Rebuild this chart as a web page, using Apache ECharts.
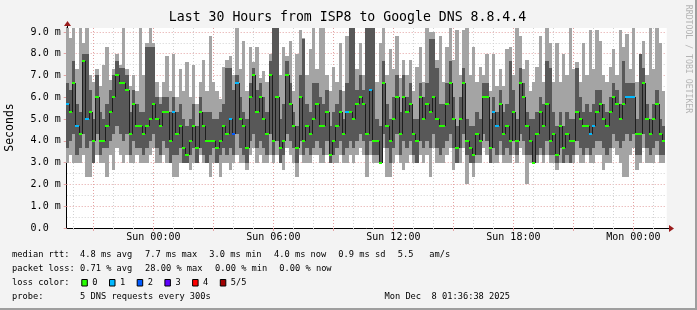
<!DOCTYPE html>
<html><head><meta charset="utf-8">
<script src="https://cdn.jsdelivr.net/npm/echarts@6/dist/echarts.min.js"></script>
<style>html,body{margin:0;padding:0;background:#f3f3f3}#c{width:697px;height:310px}</style>
</head><body><div id="c"></div>
<script>
// ---- data (ms), one column per 10 minutes, starting Sat 19:36 (minutes relative to Sun 00:00)
const STEP = 10;
const START = -264;
const medV = [5.67,5.33,6.67,4.67,4.33,7.67,5.0,5.33,4.0,6.0,
 4.0,4.0,4.67,5.33,6.0,7.0,6.67,6.67,6.33,4.33,
 5.67,4.67,4.67,4.33,4.67,5.0,5.67,5.0,4.67,5.33,
 5.33,4.0,5.33,4.33,4.67,3.67,3.33,4.0,4.67,3.67,
 5.33,4.67,4.0,4.0,4.0,3.67,4.0,4.67,4.33,5.0,
 4.33,6.67,5.0,4.67,3.67,6.0,7.0,5.33,6.0,5.0,
 4.33,7.0,4.0,6.0,3.67,4.0,7.0,5.67,4.67,3.67,
 6.0,4.0,4.67,4.33,5.0,5.67,4.67,4.67,5.33,3.33,
 4.0,4.67,5.33,4.33,5.33,5.33,5.0,5.67,6.0,5.67,
 4.33,6.33,4.0,4.0,3.0,6.67,4.67,4.0,5.0,6.0,
 4.33,6.0,5.33,5.67,4.33,4.0,6.0,5.0,5.67,5.33,
 6.0,5.0,4.67,4.67,5.67,6.67,5.0,3.67,5.0,6.67,
 4.0,3.67,3.33,4.33,4.0,6.0,6.0,3.67,5.33,4.67,
 5.67,4.33,4.67,4.0,5.33,4.0,6.67,6.0,4.67,4.0,
 3.0,4.33,5.33,4.67,5.67,4.0,4.33,3.33,4.67,3.67,
 4.33,4.0,4.0,5.33,5.0,4.67,4.67,4.33,4.67,5.33,
 5.67,5.0,4.67,5.33,6.0,5.67,5.0,5.67,6.0,6.0,
 6.0,4.33,4.33,6.67,5.0,4.33,5.0,5.67,4.33,4.0];
const p4V = [6.67,6.33,7.67,5.67,5.33,8.0,8.0,6.33,5.0,7.0,
 5.33,5.0,5.67,6.33,7.0,7.67,7.33,7.33,7.0,5.33,
 6.33,5.67,5.33,5.33,8.33,8.33,8.33,6.0,5.67,6.0,
 6.0,5.33,6.0,5.33,5.67,5.0,4.67,5.0,5.67,4.67,
 6.0,5.33,5.33,5.33,5.0,5.0,5.33,5.67,7.33,7.33,
 6.33,7.0,6.0,5.33,5.0,6.67,7.33,6.33,6.67,6.0,
 5.33,7.67,9.5,9.5,5.0,5.67,7.67,6.67,5.33,4.67,
 7.0,8.67,5.67,5.33,6.67,6.67,6.0,5.67,6.33,4.67,
 5.33,5.67,6.33,5.0,6.67,9.5,9.5,6.33,7.0,6.33,
 9.5,9.5,9.5,5.0,4.67,7.67,5.67,5.0,6.0,7.0,
 5.33,7.0,6.0,6.67,5.0,5.0,6.67,6.0,6.67,8.67,
 8.67,7.33,5.67,5.67,6.67,7.67,6.0,4.67,6.0,7.33,
 5.0,4.67,4.67,5.33,5.0,6.67,6.67,5.0,6.0,5.33,
 6.33,5.33,5.67,7.67,6.33,5.0,7.33,6.67,5.33,5.0,
 5.0,5.33,6.0,5.67,7.67,7.33,5.33,4.67,5.33,4.67,
 5.33,5.0,5.0,7.33,6.0,5.33,5.67,5.33,5.67,6.33,
 6.33,5.67,5.33,6.0,6.67,6.33,5.67,7.67,6.67,6.67,
 6.67,5.0,8.0,7.33,5.67,5.0,5.67,6.33,5.0,4.67];
const maxV = [9.5,8.7,9.5,7.3,9.5,8.5,9.5,7.0,6.7,7.3,
 6.5,7.5,8.3,6.8,7.3,8.0,7.5,9.5,7.3,6.5,
 7.0,6.3,9.5,7.0,8.5,9.5,8.5,6.7,6.0,6.7,
 7.9,6.3,8.0,6.0,7.3,6.3,7.6,6.0,7.5,5.7,
 6.7,7.7,6.3,8.8,6.7,6.3,5.9,7.4,7.7,7.9,
 7.0,9.5,7.3,8.6,6.3,8.3,7.6,8.3,6.9,7.2,
 6.7,8.0,9.5,9.5,7.0,8.3,7.9,8.6,6.3,8.0,
 9.1,8.7,7.0,8.2,9.5,7.3,9.5,9.5,7.0,6.3,
 7.4,6.7,8.5,6.3,8.8,9.5,9.5,7.3,8.5,7.0,
 9.5,9.5,9.5,6.7,8.5,9.5,7.0,8.2,7.3,8.8,
 6.9,7.7,7.0,7.7,6.3,7.4,8.3,6.7,9.5,9.0,
 9.0,7.7,8.8,6.7,8.3,9.5,7.7,9.1,7.0,9.1,
 9.5,7.0,8.3,6.7,7.4,7.0,8.0,6.3,8.0,6.5,
 7.3,6.5,8.2,8.3,7.0,9.5,8.8,7.3,7.7,6.3,
 6.7,7.4,8.8,6.7,9.5,8.5,6.7,8.5,6.7,8.0,
 7.0,9.5,7.3,7.6,6.7,8.5,7.0,9.1,7.3,9.1,
 8.6,7.0,6.7,7.4,8.2,7.0,9.1,8.3,8.9,7.3,
 9.5,6.7,8.0,8.6,7.0,9.5,7.3,9.5,8.5,6.3];
const p2V = [3.67,4.0,4.33,3.33,3.67,4.33,3.67,4.0,3.0,4.33,
 3.33,3.67,3.67,4.0,4.33,4.67,4.33,4.0,4.33,3.33,
 4.0,3.67,3.67,3.33,3.67,4.0,4.33,3.67,3.33,4.0,
 3.67,3.0,3.33,3.33,3.67,3.0,3.0,3.33,3.67,3.0,
 3.67,3.33,3.0,3.33,3.67,3.0,3.33,3.67,3.33,3.67,
 3.33,4.33,3.67,3.33,3.0,4.0,4.33,3.67,4.0,3.67,
 3.33,4.33,3.33,4.0,3.0,3.33,4.33,4.0,3.67,3.0,
 4.0,3.33,3.67,3.33,3.67,4.0,3.67,3.33,4.0,3.0,
 3.33,3.67,4.0,3.33,3.67,4.0,3.67,4.0,4.33,4.0,
 3.33,4.0,3.33,3.33,3.0,4.33,3.67,3.0,3.67,4.33,
 3.33,4.0,3.67,4.0,3.33,3.0,4.0,3.67,4.0,3.67,
 4.33,3.67,3.33,3.67,4.0,4.33,3.67,3.0,3.67,4.33,
 3.33,3.0,3.0,3.33,3.33,4.33,4.0,3.0,3.67,3.33,
 4.0,3.33,3.67,3.33,4.0,3.33,4.33,4.0,3.33,3.33,
 3.0,3.33,3.67,3.33,4.0,3.33,3.33,3.0,3.67,3.0,
 3.33,3.0,3.33,4.0,3.67,3.33,3.67,3.33,3.67,4.0,
 4.0,3.67,3.33,3.67,4.33,4.0,3.67,4.0,4.33,4.0,
 4.33,3.33,3.33,4.33,3.67,3.33,3.67,4.0,3.33,3.33];
const minV = [3.0,3.33,3.0,3.0,3.0,3.33,2.33,2.33,3.0,3.33,
 3.0,3.0,2.33,3.33,2.67,3.67,3.33,3.0,3.33,3.0,
 3.0,3.33,3.0,3.0,3.0,3.33,3.67,3.0,3.0,3.33,
 3.0,3.0,2.33,2.33,3.0,3.0,3.0,2.67,3.0,3.0,
 3.33,3.0,3.0,2.33,3.0,3.0,2.33,3.0,3.0,2.67,
 3.0,3.33,3.0,3.0,2.67,3.33,3.67,3.0,3.33,3.0,
 3.0,3.33,3.0,3.33,3.0,2.67,3.67,3.33,3.0,2.33,
 3.33,3.0,3.0,3.0,3.33,3.33,3.0,3.0,3.33,3.0,
 3.0,3.0,3.33,3.0,3.0,3.33,3.0,3.33,3.67,3.33,
 2.33,3.33,3.0,3.0,3.0,3.67,2.33,2.33,3.0,3.33,
 3.0,2.67,3.0,3.33,3.0,3.0,3.33,3.0,3.33,2.33,
 3.67,3.0,3.0,3.0,3.33,3.67,2.67,3.0,3.0,3.67,
 2.0,3.0,2.33,3.0,3.0,3.67,3.33,3.0,3.0,3.0,
 3.33,3.0,3.0,3.0,3.33,3.0,3.67,3.33,2.0,3.0,
 3.0,3.0,3.33,3.0,3.33,3.0,3.0,2.67,3.0,3.0,
 3.0,3.0,3.0,3.33,3.0,3.0,3.33,3.0,3.0,3.33,
 3.33,2.67,3.0,3.0,3.67,3.33,3.0,2.33,2.33,3.33,
 3.67,2.67,3.0,3.67,3.0,3.0,3.0,3.33,3.0,3.0];
const lossV = [1,0,0,1,0,0,1,0,0,0, 0,0,0,0,0,0,0,0,0,0, 0,0,0,0,0,0,0,0,0,0,
 0,0,1,0,0,0,0,0,0,0, 0,0,0,0,0,0,0,0,0,1, 2,1,0,0,0,0,0,0,0,0,
 0,0,0,0,0,0,0,0,0,0, 0,0,0,0,0,0,0,0,0,0, 0,0,0,0,1,0,0,0,0,0,
 0,1,0,0,0,0,0,0,0,0, 0,0,0,0,0,0,0,0,0,0, 0,0,0,0,0,0,0,0,0,0,
 0,0,0,0,0,0,0,0,1,1, 0,0,0,0,0,0,0,0,0,0, 0,0,0,0,0,0,0,0,0,0,
 0,0,0,0,0,0,0,1,1,0, 0,0,0,0,0,0,0,0,1,1, 1,0,0,0,0,0,0,0,0,0];

// axis ticks / labels
const xLabelVals = [0, 360, 720, 1080, 1440];
const xLabelText = ['Sun 00:00', 'Sun 06:00', 'Sun 12:00', 'Sun 18:00', 'Mon 00:00'];
const xMajorVals = [-180, 0, 180, 360, 540, 720, 900, 1080, 1260, 1440];
const xMinorVals = [-240, -120, -60, 60, 120, 240, 300, 420, 480, 600, 660, 780, 840, 960, 1020, 1140, 1200, 1320, 1380, 1500];
const yLabelVals = [0, 1, 2, 3, 4, 5, 6, 7, 8, 9];
const yLabelText = ['0.0  ', '1.0 m', '2.0 m', '3.0 m', '4.0 m', '5.0 m', '6.0 m', '7.0 m', '8.0 m', '9.0 m'];
const yMinorVals = [0.5, 1.5, 2.5, 3.5, 4.5, 5.5, 6.5, 7.5, 8.5];

// legend texts
const titleText = 'Last 30 Hours from ISP8 to Google DNS 8.8.4.4';
const rttStats = ['4.8 ms avg', '7.7 ms max', '3.0 ms min', '4.0 ms now', '0.9 ms sd', '5.5', 'am/s'];
const lossStats = ['0.71 % avg', '28.00 % max', '0.00 % min', '0.00 % now'];
const lossLabels = ['0', '1', '2', '3', '4', '5/5'];
const lossColors = ['#26ff00', '#00b8ff', '#0059ff', '#5e00ff', '#ff0000', '#a00000'];
const probeText = '5 DNS requests every 300s';
const stampText = 'Mon Dec  8 01:36:38 2025';

// ---- layout
const X_MIN = -260, X_MAX = 1540, Y_MAX = 9.18;
const MONO = '"DejaVu Sans Mono", monospace';
const data = medV.map((m, i) => [START + i * STEP, minV[i], p2V[i], m, p4V[i], maxV[i], lossV[i], i > 0 ? medV[i - 1] : m]);

function band(lo, hi, color) {
  return function (params, api) {
    const t = api.value(0);
    const a = api.coord([t, api.value(lo)]);
    const b = api.coord([t + STEP, api.value(hi)]);
    const x0 = Math.round(a[0]), x1 = Math.round(b[0]);
    const y0 = Math.round(b[1]), y1 = Math.round(a[1]);
    return { type: 'rect', shape: { x: x0, y: y0, width: x1 - x0, height: y1 - y0 }, style: { fill: color } };
  };
}
function medLine(params, api) {
  const t = api.value(0);
  const a = api.coord([t, api.value(7)]);
  const b = api.coord([t, api.value(3)]);
  const x = Math.round(a[0]) + 0.5;
  return { type: 'line', shape: { x1: x, y1: Math.round(a[1]), x2: x, y2: Math.round(b[1]) }, style: { stroke: '#1e1e1e', lineWidth: 1 } };
}
function medMark(params, api) {
  const t = api.value(0);
  const a = api.coord([t, api.value(3)]);
  const b = api.coord([t + STEP, api.value(3)]);
  const x0 = Math.round(a[0]), x1 = Math.round(b[0]);
  const y = Math.round(a[1]);
  return { type: 'rect', shape: { x: x0, y: y - 1, width: x1 - x0, height: 2 }, style: { fill: lossColors[api.value(6)] } };
}
const customBase = { type: 'custom', data: data, clip: true, encode: { x: 0, y: [1, 5] }, silent: true, animation: false };

const chart = echarts.init(document.getElementById('c'), null, { renderer: 'canvas' });
const gridColMinor = '#d2d2d2', gridColMajor = '#e3a3a3';
chart.setOption({
  animation: false,
  backgroundColor: '#f3f3f3',
  grid: { left: 66.7, top: 28, width: 600, height: 200, show: true, backgroundColor: '#ffffff', borderWidth: 0, containLabel: false },
  xAxis: [
    { type: 'value', min: X_MIN, max: X_MAX, position: 'bottom',
      axisLine: { show: true, onZero: false, lineStyle: { color: '#000', width: 1 } },
      axisTick: { show: true, customValues: xMajorVals, length: 3, lineStyle: { color: gridColMajor } },
      axisLabel: { customValues: xLabelVals, formatter: v => xLabelText[xLabelVals.indexOf(v)], fontFamily: MONO, fontSize: 10, color: '#000', margin: 4 },
      splitLine: { show: true, lineStyle: { color: gridColMajor, type: [1, 2], width: 1 } } },
    { type: 'value', min: X_MIN, max: X_MAX, position: 'bottom',
      axisLine: { show: false },
      axisTick: { show: true, customValues: xMinorVals, length: 2, lineStyle: { color: gridColMinor } },
      axisLabel: { show: false },
      splitLine: { show: true, lineStyle: { color: gridColMinor, type: [1, 2], width: 1 } } }
  ],
  yAxis: [
    { type: 'value', min: 0, max: Y_MAX, position: 'left',
      axisLine: { show: true, onZero: false, lineStyle: { color: '#000', width: 1 } },
      axisTick: { show: true, customValues: yLabelVals, length: 3, lineStyle: { color: gridColMajor } },
      axisLabel: { customValues: yLabelVals, formatter: v => yLabelText[yLabelVals.indexOf(v)], fontFamily: MONO, fontSize: 10, color: '#000', margin: 6 },
      splitLine: { show: true, lineStyle: { color: gridColMajor, type: [1, 2], width: 1 } } },
    { type: 'value', min: 0, max: Y_MAX, position: 'left',
      axisLine: { show: false },
      axisTick: { show: true, customValues: yMinorVals, length: 2, lineStyle: { color: gridColMinor } },
      axisLabel: { show: false },
      splitLine: { show: true, lineStyle: { color: gridColMinor, type: [1, 2], width: 1 } } }
  ],
  series: [
    Object.assign({}, customBase, { renderItem: band(1, 5, '#a4a4a4'), z: 2 }),
    Object.assign({}, customBase, { renderItem: band(2, 4, '#585858'), z: 3 }),
    Object.assign({}, customBase, { renderItem: medLine, z: 4 }),
    Object.assign({}, customBase, { renderItem: medMark, z: 5 })
  ]
});

// ---- decorations & legend text
const org = chart.convertToPixel({ xAxisIndex: 0, yAxisIndex: 0 }, [X_MIN, 0]);
const xEnd = chart.convertToPixel({ xAxisIndex: 0, yAxisIndex: 0 }, [X_MAX, Y_MAX]);
const ox = Math.round(org[0]) + 0.5, oy = Math.round(org[1]) + 0.5;
const ex = Math.round(xEnd[0]), ty = Math.round(xEnd[1]);
const arrowCol = '#9a1c1c';
function txt(text, x, y, opts) {
  return Object.assign({ type: 'text', x: x, y: y, silent: true,
    style: Object.assign({ text: text, fill: '#000', font: '8.7px ' + MONO, align: 'left', verticalAlign: 'middle', textAlign: 'left', textVerticalAlign: 'middle' }, (opts && opts.style) || {}) },
    (opts && opts.el) || {});
}
const g = [];
// frame
g.push({ type: 'rect', shape: { x: 0, y: 308, width: 697, height: 2 }, style: { fill: '#9e9e9e' }, silent: true });
g.push({ type: 'rect', shape: { x: 695, y: 0, width: 2, height: 310 }, style: { fill: '#9e9e9e' }, silent: true });
// axis extensions and arrows
g.push({ type: 'line', shape: { x1: ex, y1: oy, x2: ex + 3, y2: oy }, style: { stroke: '#000', lineWidth: 1 }, silent: true });
g.push({ type: 'polygon', shape: { points: [[ex + 2, oy - 3.5], [ex + 2, oy + 3.5], [ex + 7, oy]] }, style: { fill: arrowCol }, silent: true });
g.push({ type: 'line', shape: { x1: ox, y1: ty, x2: ox, y2: ty - 3 }, style: { stroke: '#000', lineWidth: 1 }, silent: true });
g.push({ type: 'polygon', shape: { points: [[ox - 3.5, ty - 2], [ox + 3.5, ty - 2], [ox, ty - 7]] }, style: { fill: arrowCol }, silent: true });
// title and axis title
g.push(txt(titleText, 347.5, 18, { style: { font: '13.2px ' + MONO, align: 'center', textAlign: 'center' } }));
g.push(txt('Seconds', 10.5, 127.5, { style: { font: '11.5px ' + MONO, align: 'center', textAlign: 'center' }, el: { rotation: Math.PI / 2 } }));
g.push(txt('RRDTOOL / TOBI OETIKER', 688.5, 59, { style: { font: '8.2px ' + MONO, fill: '#b4b4b4', align: 'center', textAlign: 'center' }, el: { rotation: -Math.PI / 2 } }));
// legend lines
const L1 = 254.7, L2 = 268.3, L3 = 282.3, L4 = 296.3;
g.push(txt('median rtt:', 12, L1));
const rttX = [80, 145, 209.3, 274, 338.3, 397.7, 429.3];
rttStats.forEach((s, i) => g.push(txt(s, rttX[i], L1)));
g.push(txt('packet loss:', 12, L2));
const lossX = [80, 145, 215, 279.3];
lossStats.forEach((s, i) => g.push(txt(s, lossX[i], L2)));
g.push(txt('loss color:', 12, L3));
const boxX = [81.3, 109, 136.7, 164.4, 192.1, 219.8];
lossLabels.forEach((s, i) => {
  g.push({ type: 'rect', shape: { x: boxX[i] + 0.5, y: 279.5, width: 5.5, height: 6.5 }, style: { fill: lossColors[i], stroke: '#000', lineWidth: 1 }, silent: true });
  g.push(txt(s, boxX[i] + 11, L3));
});
g.push(txt('probe:', 12, L4));
g.push(txt(probeText, 80, L4));
g.push(txt(stampText, 510, L4, { style: { align: 'right', textAlign: 'right' } }));
chart.setOption({ graphic: g });
</script>
</body></html>
